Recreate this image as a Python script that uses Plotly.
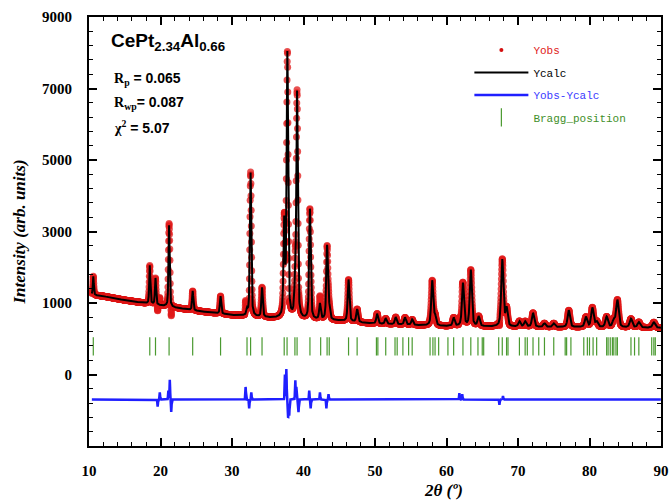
import numpy as np
import plotly.graph_objects as go

# ---------------- data ----------------
# background anchor points (2theta, counts)
bg_angles = [10.4, 12, 15, 18, 20, 25, 30, 35, 40, 45, 50, 55, 60, 70, 80, 90]
bg_counts = [1230, 1190, 1080, 990, 930, 780, 660, 585, 535, 500, 420, 385, 350, 330, 320, 305]

# reflections visible in the profile: position (2theta) and height above background
peak_pos = [10.6, 18.5, 19.3, 21.2, 24.5, 28.4, 32.1, 32.6, 34.2, 37.3, 37.75, 38.8, 39.1,
            40.9, 42.3, 43.3, 43.6, 46.3, 47.5, 50.3, 51.5, 52.9, 54.2, 55.2, 58.0, 58.4,
            61.0, 62.3, 63.4, 64.5, 67.8, 68.4, 70.2, 71.0, 72.1, 73.7, 75.0, 77.1, 79.5,
            80.4, 81.0, 82.4, 83.4, 83.9, 85.8, 86.9, 89.0]
peak_amp = [520, 1070, 740, 2280, 540, 490, 150, 4020, 820, 2600, 7400, 600, 6300,
            3080, 440, 2070, 300, 1170, 360, 280, 150, 200, 200, 150, 1250, 250,
            230, 1200, 1570, 270, 1870, 500, 150, 150, 390, 100, 100, 470, 280,
            540, 150, 290, 200, 760, 240, 150, 150]

# misfit features of the refinement: position and Yobs-Ycalc amplitude
resid_pos = [19.6, 19.9, 21.1, 21.3, 21.5, 31.9, 32.4, 32.7, 37.4, 37.6, 37.85, 38.0,
             38.85, 39.0, 39.3, 40.8, 41.0, 42.3, 43.2, 43.5, 61.8, 62.2, 67.4, 67.9]
resid_amp = [-200, 200, 250, 550, -350, 350, -250, 200, 700, 850, -500, -450,
             550, 350, -350, 250, -250, 200, -250, 150, 180, 150, -150, 100]

# Bragg reflection positions
bragg_pos = [10.6, 18.5, 19.3, 21.2, 24.5, 28.4, 32.1, 32.6, 34.2, 37.3, 37.7, 38.8, 39.1,
             40.9, 42.4, 43.3, 43.6, 46.3, 47.5, 50.2, 50.4, 51.5, 52.8, 53.1, 53.9, 54.7,
             55.2, 57.7, 58.1, 58.4, 58.9, 60.2, 61.0, 62.3, 63.4, 64.4, 65.0, 65.2, 67.3,
             67.8, 68.4, 68.6, 70.2, 71.0, 71.3, 72.1, 72.9, 73.7, 75.0, 76.6, 76.8, 77.4,
             79.2, 79.7, 80.0, 80.5, 81.0, 82.4, 82.6, 82.9, 83.2, 83.4, 83.7, 83.9, 85.8,
             86.3, 86.9, 88.7, 89.0, 89.2]

diff_offset = -1700
bragg_level = -215

x_ticks = [10, 20, 30, 40, 50, 60, 70, 80, 90]
y_tickvals = [-1000, 1000, 3000, 5000, 7000, 9000]
y_ticktext = ["0", "1000", "3000", "5000", "7000", "9000"]

# ---------------- profile computation ----------------
tt = np.arange(10.4, 89.99, 0.02)
bg = np.interp(tt, bg_angles, bg_counts)


def pvoigt(x, x0, fwhm, eta=0.5):
    d = (x - x0) / fwhm
    g = np.exp(-4 * np.log(2) * d ** 2)
    lor = 1.0 / (1.0 + 4 * d ** 2)
    return eta * lor + (1 - eta) * g


ycalc = bg.copy()
for p, a in zip(peak_pos, peak_amp):
    w = 0.15 + 0.0035 * (p - 10)
    ycalc += a * pvoigt(tt, p, w)

resid = np.zeros_like(tt)
for p, a in zip(resid_pos, resid_amp):
    resid += a * np.exp(-((tt - p) / 0.06) ** 2)

yobs = ycalc + resid
ydiff = yobs - ycalc + diff_offset

# ---------------- figure ----------------
fig = go.Figure()
fig.add_trace(go.Scatter(
    x=tt, y=yobs, mode="markers", showlegend=False,
    marker=dict(color="#e01818", size=7, opacity=0.75)))
# legend entry for the observed points (small dot, as in the reference legend)
fig.add_trace(go.Scatter(
    x=[None], y=[None], mode="markers", name='<span style="color:#e02020">Yobs</span>',
    marker=dict(color="#d41010", size=4), legendgroup="a"))
fig.add_trace(go.Scatter(
    x=tt, y=ycalc, mode="lines", name="Ycalc",
    line=dict(color="black", width=2), legendgroup="b"))
fig.add_trace(go.Scatter(
    x=tt, y=ydiff, mode="lines", name='<span style="color:#3a3aff">Yobs-Ycalc</span>',
    line=dict(color="#1f1fff", width=2.5), legendgroup="c"))
fig.add_trace(go.Scatter(
    x=bragg_pos, y=[bragg_level] * len(bragg_pos), mode="markers",
    name='<span style="color:#3f8f2a">Bragg_position</span>',
    marker=dict(symbol="line-ns-open", size=13, color="#4a9a30",
                line=dict(color="#4a9a30", width=1.2)), legendgroup="d"))

axis_font = dict(family="Liberation Serif", size=15, color="black", weight="bold")

fig.update_layout(
    width=672, height=500,
    margin=dict(l=89, r=11, t=17, b=54),
    paper_bgcolor="white", plot_bgcolor="white",
    showlegend=True,
    legend=dict(x=0.665, y=0.957, xanchor="left", yanchor="top",
                bgcolor="rgba(0,0,0,0)", font=dict(family="Liberation Mono", size=11, color="black"),
                itemwidth=54, tracegroupgap=3.5),
    xaxis=dict(range=[10, 90], tickvals=x_ticks, ticks="inside", ticklen=8, tickwidth=1.5,
               tickcolor="black", showline=True, linecolor="black", linewidth=2, mirror="ticks",
               showgrid=False, zeroline=False, tickfont=axis_font, ticklabelstandoff=10,
               automargin=False,
               minor=dict(dtick=2, tick0=10, ticks="inside", ticklen=4, tickcolor="black",
                          tickwidth=1, showgrid=False)),
    yaxis=dict(range=[-3000, 9000], tickmode="array", tickvals=y_tickvals, ticktext=y_ticktext,
               ticks="inside", ticklen=8, tickwidth=1.5, tickcolor="black",
               showline=True, linecolor="black", linewidth=2, mirror="ticks",
               showgrid=False, zeroline=False, tickfont=axis_font, ticklabelstandoff=12,
               automargin=False,
               title=dict(text="<b><i>Intensity (arb. units)</i></b>",
                          font=dict(family="Liberation Serif", size=17, color="black"), standoff=12),
               minor=dict(tickmode="linear", dtick=400, tick0=9000, ticks="inside", ticklen=4,
                          tickcolor="black", tickwidth=1, showgrid=False)),
)

serif = "font-family:'Liberation Serif'"
fig.add_annotation(xref="paper", yref="paper", x=0.035, y=0.975, xanchor="left", yanchor="top",
                   showarrow=False, align="left",
                   text="<b>CePt<sub>2.34</sub>Al<sub>0.66</sub></b>",
                   font=dict(family="Liberation Sans", size=19, color="black"))
lines = [
    f'<span style="{serif}">R<sub>p</sub></span> = 0.065',
    f'<span style="{serif}">R<sub>wp</sub></span>= 0.087',
    f'<span style="{serif}">χ<sup>2</sup></span> = 5.07',
]
for i, t in enumerate(lines):
    fig.add_annotation(xref="paper", yref="paper", x=0.04, y=0.855 - i * 0.056,
                       xanchor="left", yanchor="middle", showarrow=False,
                       text="<b>" + t + "</b>",
                       font=dict(family="Liberation Sans", size=14, color="black"))

fig.add_annotation(xref="paper", yref="paper", x=0.62, y=-0.103, xanchor="center", yanchor="middle",
                   showarrow=False, text="<b><i>2θ (º)</i></b>",
                   font=dict(family="Liberation Serif", size=17, color="black"))

fig.write_html("out.html", config={"displayModeBar": False},
               post_script="document.body.style.margin='0';document.body.style.overflow='hidden';")
